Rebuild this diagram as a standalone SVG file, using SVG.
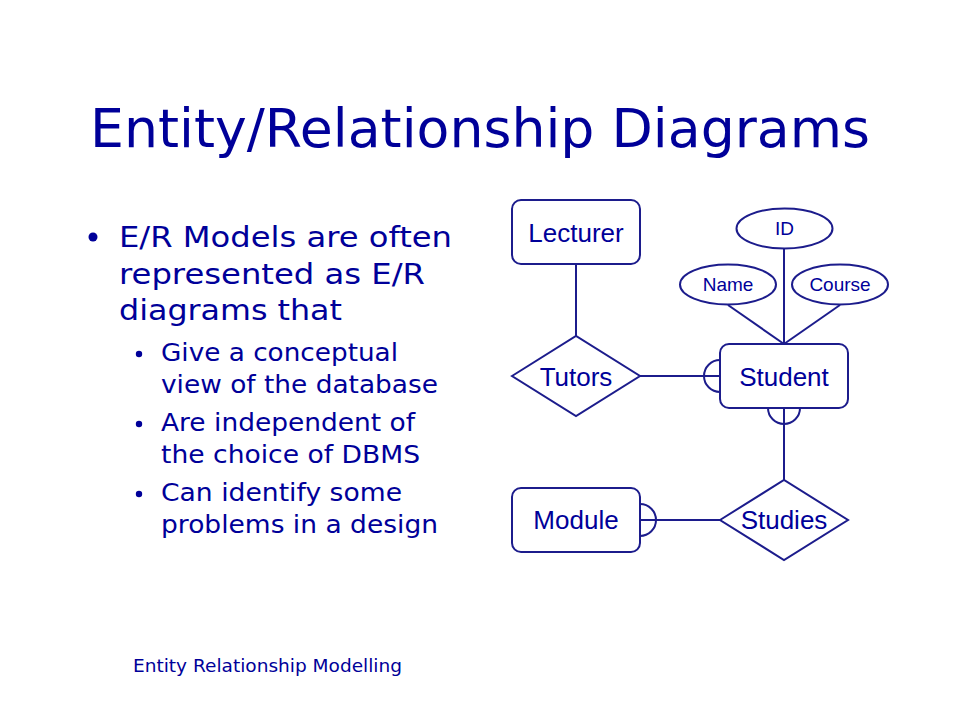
<svg xmlns="http://www.w3.org/2000/svg" width="960" height="720" viewBox="0 0 960 720">
<style>
.t{fill:#000099;font-family:"DejaVu Sans",Verdana,sans-serif}
.n{fill:#000099;font-family:"Liberation Sans",Arial,sans-serif;text-anchor:middle}
.s{fill:#fff;stroke:#1c1c8c;stroke-width:2}
.c{fill:none;stroke:#1c1c8c;stroke-width:2}
</style>
<rect width="960" height="720" fill="#fff"/>
<text class="t" x="90" y="147" font-size="54" textLength="780" lengthAdjust="spacingAndGlyphs">Entity/Relationship Diagrams</text>
<g id="bullets">
<circle cx="93" cy="237" r="4.5" fill="#000099"/>
<text class="t" x="119" y="247" font-size="29" textLength="333" lengthAdjust="spacingAndGlyphs">E/R Models are often</text>
<text class="t" x="119" y="284" font-size="29" textLength="306" lengthAdjust="spacingAndGlyphs">represented as E/R</text>
<text class="t" x="119" y="320" font-size="29" textLength="223" lengthAdjust="spacingAndGlyphs">diagrams that</text>
<circle cx="139" cy="354" r="3.2" fill="#000099"/>
<text class="t" x="161" y="361" font-size="25" textLength="237" lengthAdjust="spacingAndGlyphs">Give a conceptual</text>
<text class="t" x="161" y="393" font-size="25" textLength="277" lengthAdjust="spacingAndGlyphs">view of the database</text>
<circle cx="139" cy="424" r="3.2" fill="#000099"/>
<text class="t" x="161" y="431" font-size="25" textLength="254" lengthAdjust="spacingAndGlyphs">Are independent of</text>
<text class="t" x="161" y="463" font-size="25" textLength="259" lengthAdjust="spacingAndGlyphs">the choice of DBMS</text>
<circle cx="139" cy="494" r="3.2" fill="#000099"/>
<text class="t" x="161" y="501" font-size="25" textLength="241" lengthAdjust="spacingAndGlyphs">Can identify some</text>
<text class="t" x="161" y="533" font-size="25" textLength="277" lengthAdjust="spacingAndGlyphs">problems in a design</text>
</g>
<text class="t" x="133" y="672" font-size="18" textLength="269" lengthAdjust="spacingAndGlyphs">Entity Relationship Modelling</text>
<g id="connectors">
<line class="c" x1="576" y1="264" x2="576" y2="336"/>
<line class="c" x1="640" y1="376" x2="720" y2="376"/>
<path class="c" d="M720 360 A16 16 0 0 0 720 392"/>
<line class="c" x1="784" y1="249" x2="784" y2="344"/>
<line class="c" x1="728" y1="305" x2="784" y2="344"/>
<line class="c" x1="840" y1="305" x2="784" y2="344"/>
<line class="c" x1="784" y1="408" x2="784" y2="480"/>
<path class="c" d="M768 408 A16 16 0 0 0 800 408"/>
<line class="c" x1="640" y1="520" x2="720" y2="520"/>
<path class="c" d="M640 504 A16 16 0 0 1 640 536"/>
</g>
<g id="lecturer"><rect class="s" x="512" y="200" width="128" height="64" rx="9"/><text class="n" x="576" y="242" font-size="26">Lecturer</text></g>
<g id="tutors"><polygon class="s" points="512,376 576,336 640,376 576,416"/><text class="n" x="576" y="386" font-size="26">Tutors</text></g>
<g id="student"><rect class="s" x="720" y="344" width="128" height="64" rx="9"/><text class="n" x="784" y="386" font-size="26">Student</text></g>
<g id="id"><ellipse class="s" cx="784.5" cy="228.5" rx="48" ry="20"/><text class="n" x="784.5" y="235" font-size="19">ID</text></g>
<g id="name"><ellipse class="s" cx="728" cy="284.5" rx="48" ry="20"/><text class="n" x="728" y="291" font-size="19">Name</text></g>
<g id="course"><ellipse class="s" cx="840" cy="284.5" rx="48" ry="20"/><text class="n" x="840" y="291" font-size="19">Course</text></g>
<g id="studies"><polygon class="s" points="720,520 784,480 848,520 784,560"/><text class="n" x="784" y="529" font-size="26">Studies</text></g>
<g id="module"><rect class="s" x="512" y="488" width="128" height="64" rx="9"/><text class="n" x="576" y="529" font-size="26">Module</text></g>
</svg>
